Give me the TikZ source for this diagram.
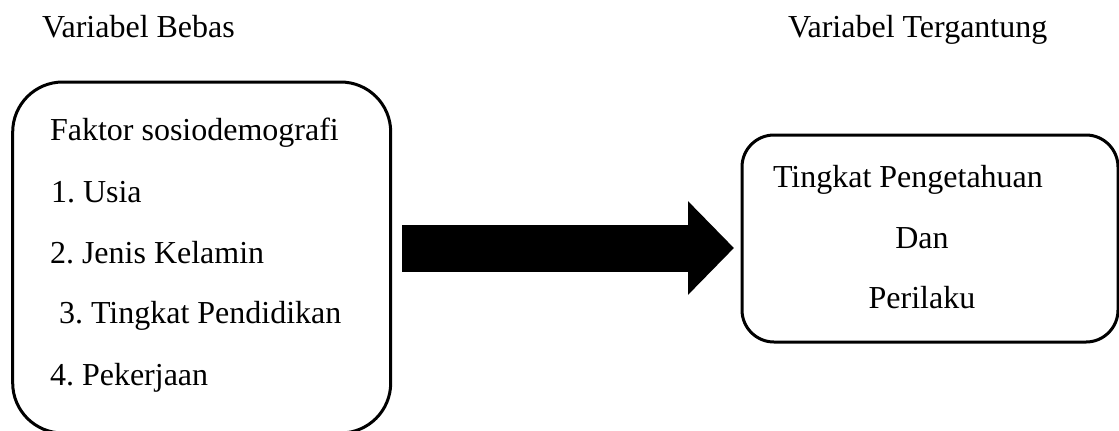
\documentclass[tikz,border=0pt]{standalone}
\usepackage{fontspec}
\setmainfont{Liberation Serif}
\usetikzlibrary{arrows.meta}
\frenchspacing
\tikzset{
  kotak/.style={draw, line width=1.5pt, outer sep=0pt, inner sep=0pt},
  teks/.style={inner sep=0pt, outer sep=0pt, font=\fontsize{16}{19}\selectfont},
  panah/.style={line width=23.5pt, -{Triangle[length=23pt, width=45.5pt]}, shorten <=5.65pt, shorten >=4pt}
}

\begin{document}
\begin{tikzpicture}[x=0.5pt, y=-0.5pt]
    \useasboundingbox (0,0) rectangle (1119,430);

    \node[teks, anchor=base west] (judulbebas) at (42,37) {Variabel Bebas};
    \node[teks, anchor=base west] (judultergantung) at (788,37) {Variabel Tergantung};

    \node[kotak, rounded corners=25pt, minimum width=189pt, minimum height=175.5pt] (bebas) at (201.7,257.5) {};
    \node[kotak, rounded corners=16pt, minimum width=188pt, minimum height=103.5pt] (tergantung) at (930,238.5) {};

    \node[teks, anchor=base west] (faktor) at (50,140) {Faktor sosiodemografi};
    \node[teks, anchor=base west] (usia) at (51,202) {1. Usia};
    \node[teks, anchor=base west] (kelamin) at (50,263) {2. Jenis Kelamin};
    \node[teks, anchor=base west] (pendidikan) at (59,323) {3. Tingkat Pendidikan};
    \node[teks, anchor=base west] (pekerjaan) at (50,385) {4. Pekerjaan};

    \node[teks, anchor=base west] (pengetahuan) at (773,187) {Tingkat Pengetahuan};
    \node[teks, anchor=base] (dan) at (922,248) {Dan};
    \node[teks, anchor=base] (perilaku) at (922,308) {Perilaku};

    \draw[panah] ([yshift=4.75pt]bebas.east) -- ([yshift=-4.75pt]tergantung.west);
  \end{tikzpicture}
\end{document}
